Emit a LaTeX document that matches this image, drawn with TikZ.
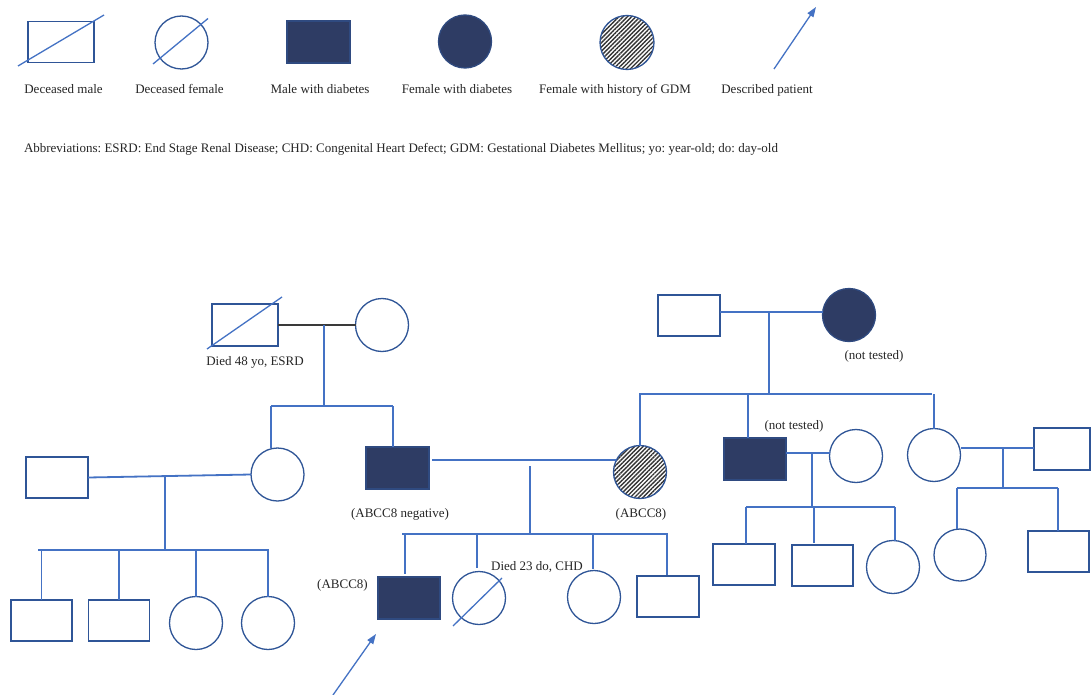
\documentclass[tikz,border=0pt]{standalone}
\usepackage{fontspec}
\setmainfont{Liberation Serif}
\usetikzlibrary{arrows.meta,patterns.meta,calc}
\definecolor{lineblue}{HTML}{4472C4}
\definecolor{outl}{HTML}{2F5597}
\definecolor{navy}{HTML}{2E3C64}
\definecolor{txt}{HTML}{262626}
\definecolor{hatch}{HTML}{333333}
\definecolor{mlineblack}{HTML}{3A3A3A}
\begin{document}
\frenchspacing
\begin{tikzpicture}[x=1pt,y=-1pt,
  every node/.style={inner sep=0pt, outer sep=0pt},
  lbl/.style={font=\fontsize{13}{15}\selectfont, text=txt, anchor=base},
  male/.style={draw=outl, line width=1.3pt, rectangle, minimum width=62pt, minimum height=41pt},
  female/.style={draw=outl, line width=1.3pt, circle, minimum size=53pt},
  aff/.style={fill=navy, draw=outl!55!navy},
  gdm/.style={pattern={Lines[angle=45,distance=3pt,line width=1.4pt]}, pattern color=hatch},
  conn/.style={draw=lineblue, line width=1.8pt},
  mline/.style={draw=mlineblack, line width=1.5pt},
  slash/.style={draw=lineblue, line width=1.3pt},
  ptarrow/.style={draw=lineblue, line width=1.3pt, -{Triangle[length=10pt,width=7pt]}}
]
\fill[white] (0,0) rectangle (1091,695);
\useasboundingbox (0,0) rectangle (1091,695);

% ---------------- Legend ----------------
\node[male, minimum width=66pt, minimum height=41pt] (L1) at (61,42) {};
\draw[slash] ($(L1.center)+(-43,24)$) -- ($(L1.center)+(43,-27)$);
\node[female] (L2) at (181.5,42.5) {};
\draw[slash] ($(L2.center)+(-28.5,21.5)$) -- ($(L2.center)+(26.5,-24)$);
\node[male, aff, minimum width=63pt, minimum height=42pt] (L3) at (318.5,42) {};
\node[female, aff] (L4) at (465,41.5) {};
\node[female, gdm, minimum size=54pt] (L5) at (627,42.5) {};
\coordinate (L6a) at (774,69);
\coordinate (L6b) at (816,7);
\draw[ptarrow] (L6a) -- (L6b);

\node[lbl] (t1) at (63.5,94) {Deceased male};
\node[lbl] (t2) at (179.5,94) {Deceased female};
\node[lbl] (t3) at (320,94) {Male with diabetes};
\node[lbl] (t4) at (457,94) {Female with diabetes};
\node[lbl] (t5) at (615,94) {Female with history of GDM};
\node[lbl] (t6) at (767,94) {Described patient};

\node[lbl, anchor=base west] (abbr) at (24,153) {Abbreviations: ESRD: End Stage Renal Disease; CHD: Congenital Heart Defect; GDM: Gestational Diabetes Mellitus; yo: year-old; do: day-old};

% ---------------- Family A (paternal grandparents) ----------------
\node[male, minimum width=66pt, minimum height=42pt] (A1) at (245,325) {};
\draw[slash] ($(A1.center)+(-38,24)$) -- ($(A1.center)+(37,-28)$);
\node[female] (A2) at (382,325) {};
\draw[mline] (A1.east) -- (A2.west);
\coordinate (aM) at (324,325);
\coordinate (aS) at (324,406);
\draw[conn] (aM) -- (aS);
\coordinate (aL) at (271,406);
\coordinate (aR) at (393,406);
\draw[conn] (aL) -- (aR);
\node[lbl] (tA) at (255,365) {Died 48 yo, ESRD};

% ---------------- Family B (left) ----------------
\node[male] (B1) at (57,477.5) {};
\node[female] (B2) at (277.5,474.5) {};
\node[male, aff, minimum width=63pt, minimum height=42pt] (B3) at (397.5,468) {};
\draw[conn] (aL) -- (aL |- B2.north);
\draw[conn] (aR) -- (aR |- B3.north);
\draw[conn] (B1.east) -- (B2.west);
\coordinate (bM) at (165,475);
\coordinate (bS) at (165,550);
\draw[conn] (bM) -- (bS);
\coordinate (bL) at (38,550);
\coordinate (bR) at (269,550);
\draw[conn] (bL) -- (bR);
\node[male, minimum width=61pt] (C1) at (41.5,620.5) {};
\node[male, minimum width=61pt] (C2) at (119,620.5) {};
\node[female] (C3) at (196,623) {};
\node[female] (C4) at (268,623) {};
\foreach \c in {C1,C2,C3,C4} {\draw[conn] (\c.north |- bS) -- (\c.north);}

% ---------------- Family F (maternal grandparents) ----------------
\node[male] (F1) at (689,315.5) {};
\node[female, aff] (F2) at (849,315) {};
\coordinate (fM) at (769,312);
\draw[conn] (F1.east |- fM) -- (F2.west |- fM);
\coordinate (fS) at (769,394);
\draw[conn] (fM) -- (fS);
\coordinate (fL) at (639,394);
\coordinate (fR) at (932,394);
\draw[conn] (fL) -- (fR);
\node[lbl] (tF) at (874,359) {(not tested)};

% ---------------- Family D (parents of proband) ----------------
\node[female, gdm] (D2) at (640,472) {};
\draw[conn] (D2.north |- fS) -- (D2.north);
\coordinate (dM1) at (432,460);
\draw[conn] (dM1) -- (D2.153);
\coordinate (dT) at (530,466);
\coordinate (dS) at (530,534);
\draw[conn] (dT) -- (dS);
\coordinate (dL) at (402,534);
\coordinate (dR) at (668,534);
\draw[conn] (dL) -- (dR);
\node[lbl] (tB3) at (400,517) {(ABCC8 negative)};
\node[lbl] (tD2) at (641,517) {(ABCC8)};

\node[male, aff, minimum width=62pt, minimum height=42pt] (P) at (409,598) {};
\node[female] (E2) at (479,598) {};
\draw[slash] ($(E2.center)+(-26,28)$) -- ($(E2.center)+(23,-20)$);
\node[female] (E3) at (594,597) {};
\node[male] (E4) at (668,596.5) {};
\coordinate (e1) at (405,534);
\coordinate (e2) at (477,534);
\coordinate (e3) at (593,534);
\coordinate (e4) at (667,534);
\draw[conn, shorten >=3pt] (e1) -- (e1 |- P.north);
\draw[conn, shorten >=4pt] (e2) -- (e2 |- E2.north);
\draw[conn, shorten >=2pt] (e3) -- (e3 |- E3.north);
\draw[conn, shorten >=1pt] (e4) -- (e4 |- E4.north);
\node[lbl] (tE2) at (537,570) {Died 23 do, CHD};
\node[lbl] (tP) at (342.5,588) {(ABCC8)};
\coordinate (pTail) at (333,695);
\coordinate (pTip) at (376,634);
\draw[ptarrow] (pTail) -- (pTip);

% ---------------- Family G ----------------
\node[male, aff, minimum height=42pt] (G1) at (755,459) {};
\node[female] (G2) at (856,456) {};
\coordinate (g0) at (748,394);
\draw[conn] (g0) -- (g0 |- G1.north);
\node[lbl] (tG1) at (794,429.5) {(not tested)};
\coordinate (gM) at (812,453);
\draw[conn] (G1.east |- gM) -- (G2.west |- gM);
\coordinate (gS) at (812,507);
\draw[conn] (gM) -- (gS);
\coordinate (gL) at (746,507);
\coordinate (gR) at (895,507);
\draw[conn] (gL) -- (gR);
\node[male] (G3) at (744,564.5) {};
\node[male, minimum width=61pt] (G4) at (822.5,565.5) {};
\node[female] (G5) at (893,567) {};
\coordinate (g3) at (746,507);
\coordinate (g4) at (814,507);
\coordinate (g5) at (895,507);
\draw[conn] (g3) -- (g3 |- G3.north);
\draw[conn, shorten >=2pt] (g4) -- (g4 |- G4.north);
\draw[conn] (g5) -- (g5 |- G5.north);

% ---------------- Family H ----------------
\node[female] (H1) at (934,455) {};
\draw[conn] (H1.north |- fR) -- (H1.north);
\node[male, minimum width=56pt, minimum height=42pt] (H2) at (1062,449) {};
\coordinate (hM) at (1003,448);
\draw[conn] (H1.east |- hM) -- (H2.west |- hM);
\coordinate (hS) at (1003,488);
\draw[conn] (hM) -- (hS);
\coordinate (hL) at (957,488);
\coordinate (hR) at (1058,488);
\draw[conn] (hL) -- (hR);
\node[female, minimum size=52pt] (H3) at (960,555) {};
\node[male, minimum width=61pt] (H4) at (1058.5,551.5) {};
\draw[conn] (hL) -- (hL |- H3.north);
\draw[conn] (hR) -- (hR |- H4.north);
\end{tikzpicture}
\end{document}
